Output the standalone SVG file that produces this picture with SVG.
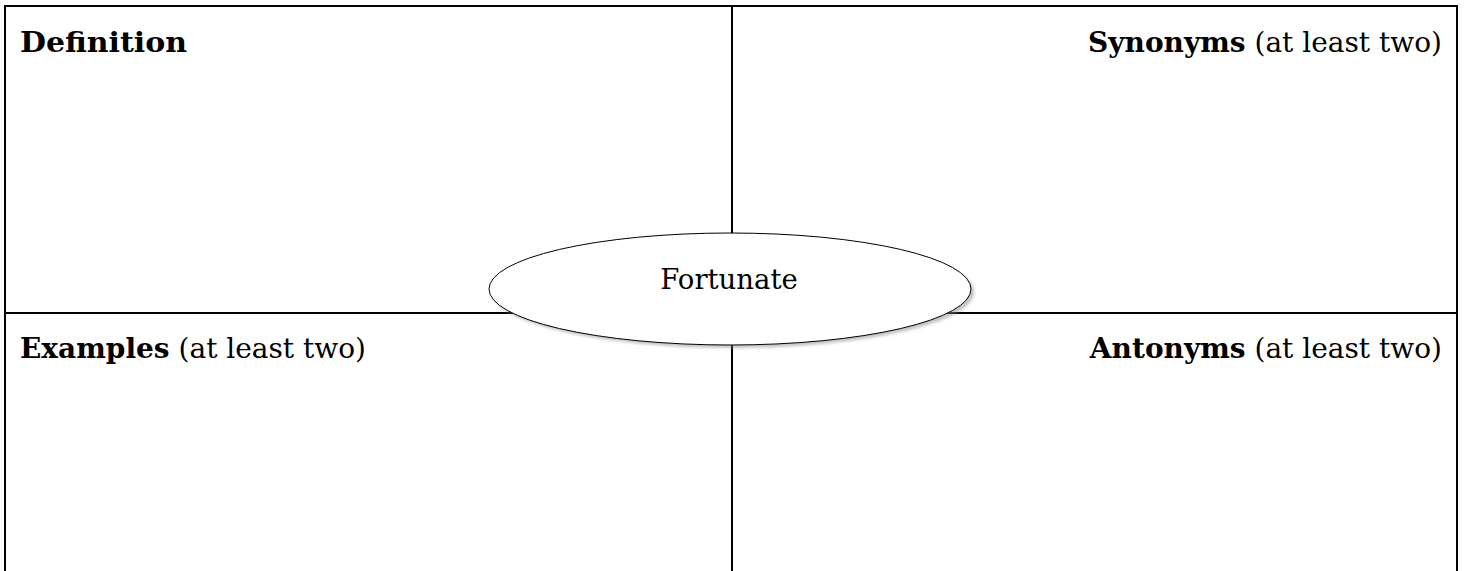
<svg xmlns="http://www.w3.org/2000/svg" width="1465" height="571" viewBox="0 0 1465 571">
<style>
.grid{stroke:#000;stroke-width:2;fill:none}
.lbl{font-family:"DejaVu Serif","Liberation Serif",serif;font-size:28px;fill:#000}
.b{font-weight:bold}
.c{font-family:"DejaVu Serif","Liberation Serif",serif;font-size:27.5px;fill:#000}
</style>
<defs>
<filter id="sh" x="-10%" y="-20%" width="120%" height="140%">
<feGaussianBlur stdDeviation="1.5"/>
</filter>
</defs>
<rect width="1465" height="571" fill="#fff"/>
<g id="connectors" class="grid">
<line x1="5" y1="6" x2="1457" y2="6"/>
<line x1="5" y1="5" x2="5" y2="571"/>
<line x1="1457" y1="5" x2="1457" y2="571"/>
<line x1="5" y1="313" x2="1457" y2="313"/>
<line x1="732" y1="6" x2="732" y2="571"/>
</g>
<g id="definition"><text class="lbl b" x="20" y="52" textLength="167" lengthAdjust="spacingAndGlyphs">Definition</text></g>
<g id="synonyms"><text class="lbl" x="1442" y="52" text-anchor="end"><tspan class="b">Synonyms</tspan> (at least two)</text></g>
<g id="examples"><text class="lbl" x="20" y="358"><tspan class="b">Examples</tspan> (at least two)</text></g>
<g id="antonyms"><text class="lbl" x="1442" y="358" text-anchor="end"><tspan class="b">Antonyms</tspan> (at least two)</text></g>
<g id="fortunate">
<ellipse cx="733" cy="292" rx="241" ry="56" fill="#888" opacity="0.5" filter="url(#sh)"/>
<ellipse cx="730" cy="289" rx="241" ry="56" fill="#fff" stroke="#000" stroke-width="1"/>
<text class="c" x="729" y="289" text-anchor="middle">Fortunate</text>
</g>
</svg>
